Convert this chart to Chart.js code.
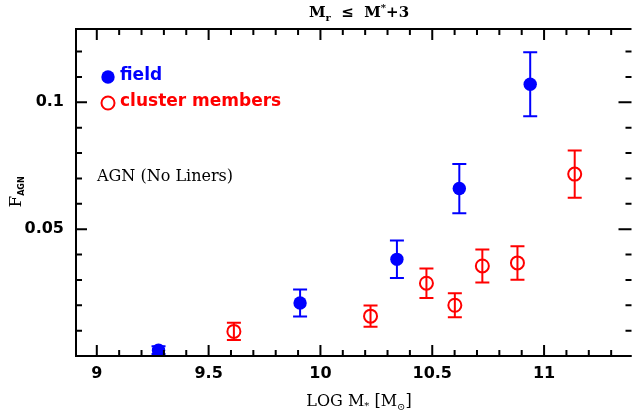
<!DOCTYPE html>
<html>
<head>
<meta charset="utf-8">
<script src="https://cdn.jsdelivr.net/npm/chart.js@4/dist/chart.umd.min.js"></script>
<style>
  html, body { margin: 0; padding: 0; background: #fff; overflow: hidden; }
  canvas { display: block; }
</style>
</head>
<body>
<canvas id="chart" width="638" height="418"></canvas>
<script>
/* ── Data: AGN fraction vs stellar mass ── */
const fieldMass    = [9.276, 9.909, 10.342, 10.621, 10.938];
const fieldFrac    = [0.0023, 0.0209, 0.0381, 0.0660, 0.1071];
const fieldErr     = [0.0015, 0.0053, 0.0074, 0.0097, 0.0126];

const clusterMass  = [9.613, 10.224, 10.474, 10.601, 10.724, 10.881, 11.137];
const clusterFrac  = [0.0097, 0.0157, 0.0287, 0.0200, 0.0355, 0.0367, 0.0717];
const clusterErr   = [0.0034, 0.0042, 0.0058, 0.0047, 0.0065, 0.0066, 0.0093];

const xMajor = [9, 9.5, 10, 10.5, 11];
const xLabels = ['9', '9.5', '10', '10.5', '11'];
const yMajor = [0, 0.05, 0.1];
const yLabels = ['', '0.05', '0.1'];

const BLUE = '#0000ff';
const RED  = '#ff0000';

/* ── draw a run of text pieces (sub/superscripts) ── */
function richWidth(ctx, parts) {
  return parts.reduce((w, p) => { ctx.font = p.font; return w + ctx.measureText(p.t).width; }, 0);
}
function drawRich(ctx, parts, x, y) {
  parts.forEach(p => {
    ctx.font = p.font;
    ctx.fillText(p.t, x, y + (p.dy || 0));
    x += ctx.measureText(p.t).width;
  });
}

/* ── Error bars (under the markers) ── */
const errorBars = {
  id: 'errorBars',
  beforeDatasetsDraw(chart) {
    const { ctx, scales: { x, y } } = chart;
    ctx.save();
    ctx.lineWidth = 2;
    chart.data.datasets.forEach(ds => {
      ctx.strokeStyle = ds.borderColor;
      ds.data.forEach(p => {
        const px = x.getPixelForValue(p.x);
        const top = y.getPixelForValue(p.y + p.err);
        const bot = y.getPixelForValue(p.y - p.err);
        ctx.beginPath();
        ctx.moveTo(px, top); ctx.lineTo(px, bot);
        ctx.moveTo(px - 7, top); ctx.lineTo(px + 7, top);
        ctx.moveTo(px - 7, bot); ctx.lineTo(px + 7, bot);
        ctx.stroke();
      });
    });
    ctx.restore();
  }
};

/* ── Frame, inward ticks, labels, annotations ── */
const frame = {
  id: 'frame',
  afterDraw(chart) {
    const { ctx, chartArea: a, scales: { x, y } } = chart;
    ctx.save();
    ctx.strokeStyle = '#000';
    ctx.fillStyle = '#000';
    ctx.lineWidth = 2;
    // left, bottom, top (the right side falls just outside the picture)
    ctx.beginPath();
    ctx.moveTo(a.right + 2, a.top); ctx.lineTo(a.left, a.top);
    ctx.lineTo(a.left, a.bottom); ctx.lineTo(a.right + 2, a.bottom);
    ctx.stroke();

    // x ticks every 0.1, major every 0.5
    ctx.beginPath();
    for (let i = 89; i <= 114; i++) {
      const v = i / 10;
      if (v < x.min || v > x.max) continue;
      const px = x.getPixelForValue(v);
      const len = (i % 5 === 0) ? 11 : 6;
      ctx.moveTo(px, a.bottom); ctx.lineTo(px, a.bottom - len);
      ctx.moveTo(px, a.top);    ctx.lineTo(px, a.top + len);
    }
    // y ticks every 0.01, major every 0.05
    for (let i = 0; i <= 12; i++) {
      const py = y.getPixelForValue(i / 100);
      const major = i % 5 === 0;
      ctx.moveTo(a.left, py);  ctx.lineTo(a.left + (major ? 11 : 6), py);
      ctx.moveTo(a.right + 2, py); ctx.lineTo(a.right - (major ? 11 : 4), py);
    }
    ctx.stroke();

    // tick labels
    ctx.font = 'bold 16px "DejaVu Sans"';
    ctx.textAlign = 'center';
    ctx.textBaseline = 'middle';
    xMajor.forEach((v, i) => ctx.fillText(xLabels[i], x.getPixelForValue(v), 374));
    ctx.textAlign = 'right';
    yMajor.forEach((v, i) => ctx.fillText(yLabels[i], 64, y.getPixelForValue(v)));

    // title  M_r <= M*+3
    ctx.textAlign = 'left';
    ctx.textBaseline = 'alphabetic';
    const cx = 359;
    const tf = 'bold 15px "DejaVu Serif"', ts = 'bold 10px "DejaVu Serif"';
    const title = [
      { t: 'M', font: tf }, { t: 'r', font: ts, dy: 4 }, { t: '  \u2264  ', font: tf },
      { t: 'M', font: tf }, { t: '*', font: ts, dy: -6 }, { t: '+3', font: tf },
    ];
    drawRich(ctx, title, cx - richWidth(ctx, title) / 2, 17);

    // x-axis title  LOG M* [Msun]
    const af = '16px "DejaVu Serif"', as = '10px "DejaVu Serif"';
    const xt = [
      { t: 'LOG M', font: af }, { t: '*', font: as, dy: 3 }, { t: ' [M', font: af },
      { t: '\u2299', font: as, dy: 4 }, { t: ']', font: af },
    ];
    drawRich(ctx, xt, cx - richWidth(ctx, xt) / 2, 406);

    // y-axis title  F_AGN (rotated)
    ctx.save();
    ctx.translate(21, 192);
    ctx.rotate(-Math.PI / 2);
    const yt = [{ t: 'F', font: '17px "DejaVu Serif"' }, { t: 'AGN', font: 'bold 8px "DejaVu Sans"', dy: 3 }];
    drawRich(ctx, yt, -richWidth(ctx, yt) / 2, 0);
    ctx.restore();

    // annotation
    ctx.font = '16px "DejaVu Serif"';
    ctx.fillText('AGN (No Liners)', 97, 181);

    // legend
    ctx.font = 'bold 17px "DejaVu Sans"';
    ctx.fillStyle = BLUE;
    ctx.beginPath(); ctx.arc(108, 77, 6.7, 0, Math.PI * 2); ctx.fill();
    ctx.fillText('field', 120, 80);
    ctx.fillStyle = RED;
    ctx.strokeStyle = RED;
    ctx.beginPath(); ctx.arc(108, 103, 6.5, 0, Math.PI * 2); ctx.stroke();
    ctx.fillText('cluster members', 120, 106);
    ctx.restore();
  }
};

const toPoints = (xs, ys, es) => xs.map((v, i) => ({ x: v, y: ys[i], err: es[i] }));

new Chart(document.getElementById('chart'), {
  type: 'scatter',
  data: {
    datasets: [
      {
        label: 'field',
        data: toPoints(fieldMass, fieldFrac, fieldErr),
        backgroundColor: BLUE,
        borderColor: BLUE,
        pointRadius: 6.7,
        borderWidth: 0,
      },
      {
        label: 'cluster members',
        data: toPoints(clusterMass, clusterFrac, clusterErr),
        backgroundColor: 'rgba(0,0,0,0)',
        borderColor: RED,
        pointRadius: 6.5,
        borderWidth: 2,
      },
    ],
  },
  options: {
    responsive: false,
    animation: false,
    layout: { padding: { left: 76, right: 0, top: 29, bottom: 62 } },
    plugins: { legend: { display: false }, tooltip: { enabled: false } },
    scales: {
      x: { type: 'linear', min: 8.907, max: 11.382, display: false },
      y: { type: 'linear', min: 0, max: 0.1289, display: false },
    },
  },
  plugins: [errorBars, frame],
});
</script>
</body>
</html>
